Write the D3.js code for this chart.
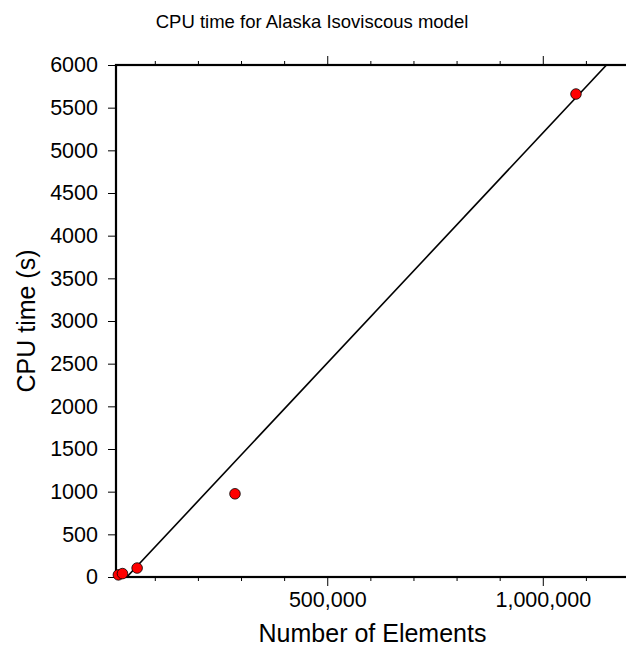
<!DOCTYPE html>
<html>
<head>
<meta charset="utf-8">
<script src="https://cdn.jsdelivr.net/npm/d3@7"></script>
<style>
  html, body { margin: 0; padding: 0; background: #fff; }
  svg { display: block; font-family: "Liberation Sans", Arial, Helvetica, sans-serif; }
</style>
</head>
<body>
<svg id="chart" width="626" height="646"></svg>
<script>
// Mesh size (number of elements) and measured CPU time in seconds
const elements = [15500, 25000, 59000, 286000, 1077000];
const cpuTime  = [25, 40, 105, 975, 5660];

// Linear fit: cpu = slope * elements + intercept
const fitSlope = 0.005393;
const fitIntercept = -190;

// Axis setup
const xDomain = [10000, 1200000];
const yDomain = [0, 6000];
const xMajorTicks = [500000, 1000000];
const xMinorTicks = [100000, 200000, 300000, 400000, 600000, 700000, 800000, 900000, 1100000];
const yTicks = [0, 500, 1000, 1500, 2000, 2500, 3000, 3500, 4000, 4500, 5000, 5500, 6000];

const titleText = "CPU time for Alaska Isoviscous model";
const xLabel = "Number of Elements";
const yLabel = "CPU time (s)";

const svg = d3.select("#chart");
const W = 626, H = 646;
const plot = { left: 116, right: 629, top: 65, bottom: 577 };

const x = d3.scaleLinear().domain(xDomain).range([plot.left, plot.right]);
const y = d3.scaleLinear().domain(yDomain).range([plot.bottom, plot.top]);

svg.append("rect").attr("width", W).attr("height", H).attr("fill", "#fff");

const fmt = d3.format(",");
const tickFont = 21.5;

function styleTicks(g) {
  g.select(".domain").remove();
  g.selectAll(".tick line").attr("stroke", "#000").attr("stroke-width", 1);
}

// Bottom axis: major labelled ticks plus minor ticks
const axisB = svg.append("g").attr("transform", `translate(0,${plot.bottom})`);
axisB.call(d3.axisBottom(x).tickValues(xMajorTicks).tickFormat(fmt).tickSize(9).tickPadding(6)).call(styleTicks);
axisB.selectAll(".tick text").attr("font-size", tickFont).attr("fill", "#000");
axisB.append("g").call(d3.axisBottom(x).tickValues(xMinorTicks).tickFormat("").tickSize(4)).call(styleTicks);

// Top axis: ticks only
const axisT = svg.append("g").attr("transform", `translate(0,${plot.top})`);
axisT.call(d3.axisTop(x).tickValues(xMajorTicks).tickFormat("").tickSize(9)).call(styleTicks);
axisT.append("g").call(d3.axisTop(x).tickValues(xMinorTicks).tickFormat("").tickSize(4)).call(styleTicks);

// Left axis
const axisL = svg.append("g").attr("transform", `translate(${plot.left},0)`);
axisL.call(d3.axisLeft(y).tickValues(yTicks).tickFormat(d3.format("d")).tickSize(8).tickPadding(10)).call(styleTicks);
axisL.selectAll(".tick text").attr("font-size", tickFont).attr("fill", "#000");

// Right axis ticks
const axisR = svg.append("g").attr("transform", `translate(${plot.right},0)`);
axisR.call(d3.axisRight(y).tickValues(yTicks).tickFormat("").tickSize(8)).call(styleTicks);

// Axis groups set their own font; use the page font instead
svg.selectAll(".tick text").attr("font-family", "Liberation Sans, Arial, sans-serif");

// Clip region for the fit line
svg.append("clipPath").attr("id", "plotClip")
  .append("rect")
  .attr("x", plot.left).attr("y", plot.top)
  .attr("width", plot.right - plot.left).attr("height", plot.bottom - plot.top);

// Fitted line across the x range
svg.append("path")
  .datum(xDomain)
  .attr("clip-path", "url(#plotClip)")
  .attr("fill", "none")
  .attr("stroke", "#000")
  .attr("stroke-width", 1.6)
  .attr("d", d3.line().x(d => x(d)).y(d => y(fitSlope * d + fitIntercept)));

// Frame
svg.append("rect")
  .attr("x", plot.left).attr("y", plot.top)
  .attr("width", plot.right - plot.left).attr("height", plot.bottom - plot.top)
  .attr("fill", "none").attr("stroke", "#000").attr("stroke-width", 2.2);

// Data points
svg.append("g").selectAll("circle")
  .data(elements.map((e, i) => ({ e, t: cpuTime[i] })))
  .join("circle")
  .attr("cx", d => x(d.e))
  .attr("cy", d => y(d.t))
  .attr("r", 5.3)
  .attr("fill", "#ff0000")
  .attr("stroke", "#000")
  .attr("stroke-width", 0.8);

// Titles
svg.append("text")
  .attr("x", 312).attr("y", 28)
  .attr("text-anchor", "middle")
  .attr("font-size", 18.5)
  .text(titleText);

svg.append("text")
  .attr("x", (plot.left + plot.right) / 2).attr("y", 642)
  .attr("text-anchor", "middle")
  .attr("font-size", 25)
  .text(xLabel);

svg.append("text")
  .attr("transform", `translate(35,${(plot.top + plot.bottom) / 2}) rotate(-90)`)
  .attr("text-anchor", "middle")
  .attr("font-size", 25)
  .text(yLabel);
</script>
</body>
</html>
